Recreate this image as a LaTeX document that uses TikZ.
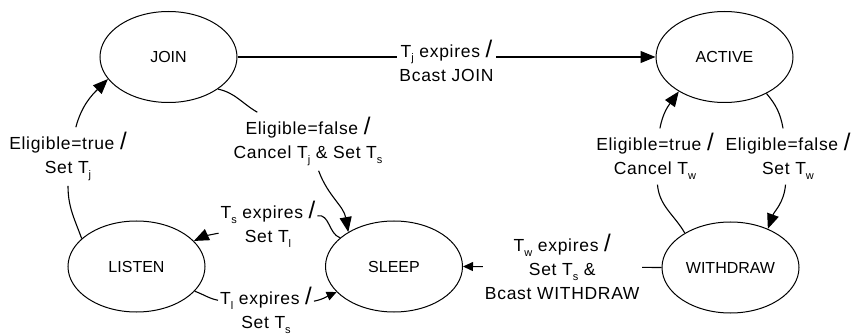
\documentclass[tikz,border=0pt]{standalone}
\usepackage{fontspec}
\setmainfont{Liberation Sans}
\newfontfamily\labelfont[LetterSpace=4]{Liberation Sans}
\usetikzlibrary{shapes.geometric,arrows.meta}
\tikzset{
  state/.style={
    ellipse,
    draw=black,
    line width=1pt,
    minimum width=137pt,
    minimum height=91pt,
    inner sep=0pt,
    font=\fontsize{16}{19}\selectfont
  },
  trans-label/.style={
    align=center,
    inner xsep=2pt,
    inner ysep=5pt,
    font=\labelfont\fontsize{17.5}{24}\selectfont
  },
  trans/.style={
    line width=1.1pt,
    -{Triangle[length=15pt,width=12pt]}
  },
  trans-small/.style={
    line width=1.1pt,
    -{Triangle[length=10pt,width=9pt]}
  }
}
\newcommand{\trslash}{{\fontsize{24}{24}\selectfont/}}
\newcommand{\trsub}[1]{\raisebox{-4.5pt}{\fontsize{11}{11}\selectfont #1}}

\begin{document}
\begin{tikzpicture}[x=1pt,y=1pt]
  \useasboundingbox (0,0) rectangle (852,335);
  % States
  \node[state] (join) at (168.5,278) {JOIN};
  \node[state] (active) at (724.5,278) {ACTIVE};
  \node[state] (listen) at (136.5,68.5) {LISTEN};
  \node[state] (sleep) at (394,68.5) {SLEEP};
  \node[state] (withdraw) at (730.5,67.5) {WITHDRAW};
  % Labels of the curved transitions
  \node[trans-label] (t-listen-join) at (68,178.5) {Eligible=true \trslash\\Set T\trsub{j}};
  \node[trans-label] (t-join-sleep) at (308,193.5) {Eligible=false \trslash\\Cancel T\trsub{j} \& Set T\trsub{s}};
  \node[trans-label] (t-sleep-listen) at (268,110.5) {T\trsub{s} expires \trslash\\Set T\trsub{l}};
  \node[trans-label] (t-listen-sleep) at (266,24.5) {T\trsub{l} expires \trslash\\Set T\trsub{s}};
  \node[trans-label] (t-withdraw-active) at (655,178.5) {Eligible=true \trslash\\Cancel T\trsub{w}};
  \node[trans-label] (t-active-withdraw) at (788,178.5) {Eligible=false \trslash\\Set T\trsub{w}};
  % Transitions
  \draw[trans] (join.east) -- node[trans-label, fill=white, yshift=-3.5pt] {T\trsub{j} expires \trslash\\Bcast JOIN} (active.west);
  \draw[trans] (listen.153) to[out=110, in=-90] (t-listen-join) to[out=75, in=225] (join.200);
  \draw[trans] (join.-33) to[out=-12, in=150] (t-join-sleep) to[out=-70, in=100] (sleep.143);
  \draw[trans] (sleep.152) to[out=160, in=10] (t-sleep-listen) to[out=190, in=25] (listen.24);
  \draw[trans-small] (listen.-23) to[out=-20, in=168] (t-listen-sleep) to[out=11, in=204] (sleep.204);
  \draw[trans-small] (withdraw.west) -- node[trans-label, fill=white] {T\trsub{w} expires \trslash\\Set T\trsub{s} \&\\Bcast WITHDRAW} (sleep.east);
  \draw[trans] (withdraw.143) to[out=120, in=-85] (t-withdraw-active) to[out=80, in=234] (active.217);
  \draw[trans] (active.-41) to[out=-50, in=100] (t-active-withdraw) to[out=-95, in=70] (withdraw.46);
\end{tikzpicture}
\end{document}
